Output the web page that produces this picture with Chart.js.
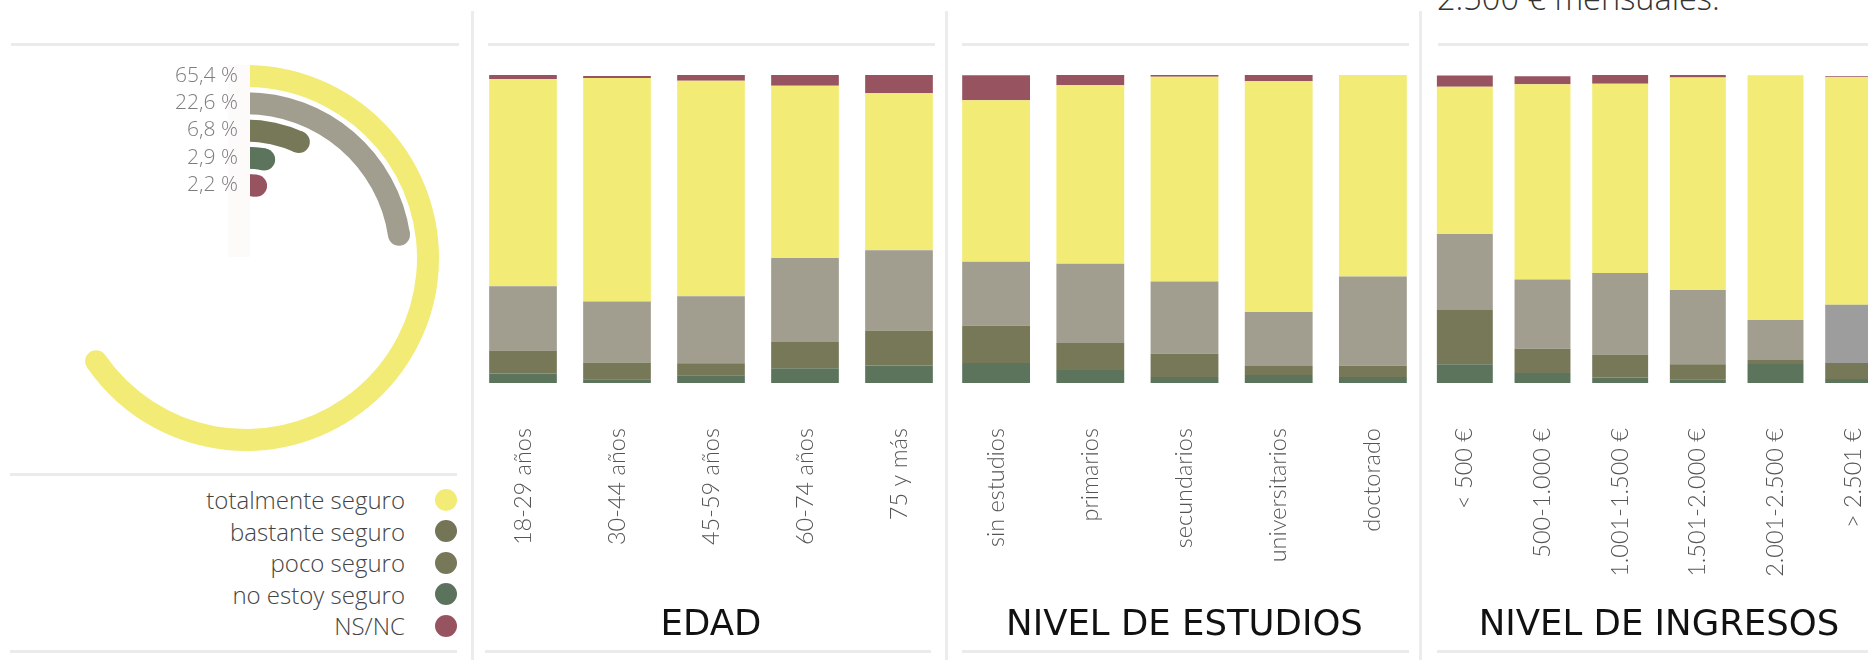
<!DOCTYPE html>
<html>
<head>
<meta charset="utf-8">
<script src="https://cdn.jsdelivr.net/npm/chart.js@4.4.1/dist/chart.umd.min.js"></script>
<style>
  body { margin: 0; width: 1868px; height: 660px; overflow: hidden; background: #fff; position: relative; font-family: 'Open Sans', Lato, sans-serif; }
  canvas { position: absolute; }
  .vline { position: absolute; top: 11px; bottom: 0; width: 3px; background: #ececec; }
  .hline { position: absolute; height: 3px; background: #ebebeb; }
  #topnote { position: absolute; left: 1437px; top: -25px; font-size: 32.5px; font-weight: 300; color: #333; white-space: nowrap; }
  #legend { position: absolute; left: 0; top: 484px; width: 457px; }
  .row { height: 31.5px; display: flex; align-items: center; justify-content: flex-end; font-size: 24px; font-weight: 300; color: #444; }
  .dot { width: 22px; height: 22px; border-radius: 50%; margin-left: 30px; }
</style>
</head>
<body>
<div id="topnote">2.500 € mensuales.</div>

<div class="vline" style="left:471px"></div>
<div class="vline" style="left:945px"></div>
<div class="vline" style="left:1419px"></div>

<div class="hline" style="left:11px;width:448px;top:43px"></div>
<div class="hline" style="left:488px;width:447px;top:43px"></div>
<div class="hline" style="left:962px;width:447px;top:43px"></div>
<div class="hline" style="left:1438px;width:440px;top:43px"></div>

<div class="hline" style="left:10px;width:447px;top:473px"></div>

<div class="hline" style="left:10px;width:447px;top:650px"></div>
<div class="hline" style="left:485px;width:446px;top:650px"></div>
<div class="hline" style="left:962px;width:447px;top:650px"></div>
<div class="hline" style="left:1437px;width:440px;top:650px"></div>

<canvas id="radial" width="386" height="386" style="left:53px;top:65px"></canvas>
<div id="legend"></div>

<canvas id="edad" width="470" height="585" style="left:476px;top:75px"></canvas>
<canvas id="estudios" width="471" height="585" style="left:949px;top:75px"></canvas>
<canvas id="ingresos" width="466" height="585" style="left:1426px;top:75px"></canvas>

<script>
// categorías de respuesta
const seriesNames = ['totalmente seguro', 'bastante seguro', 'poco seguro', 'no estoy seguro', 'NS/NC'];
const seriesColors = ['#f2eb76', '#a19d8f', '#767858', '#5c735c', '#975460'];
const legendColors = ['#f2eb76', '#747556', '#77785a', '#5b735c', '#975460'];
const totalValues = [65.4, 22.6, 6.8, 2.9, 2.2];

// EDAD
const edadLabels = ['18-29 años', '30-44 años', '45-59 años', '60-74 años', '75 y más'];
const edadTotal = [67.3, 72.5, 69.9, 55.9, 51.0];
const edadBastante = [20.8, 19.8, 21.8, 27.3, 26.0];
const edadPoco = [7.5, 5.5, 3.9, 8.5, 11.4];
const edadNoSeguro = [3.1, 1.2, 2.5, 4.8, 5.7];
const edadNsnc = [1.3, 0.7, 1.9, 3.6, 5.9];

// NIVEL DE ESTUDIOS
const estudiosLabels = ['sin estudios', 'primarios', 'secundarios', 'universitarios', 'doctorado'];
const estudiosTotal = [52.4, 58.0, 66.4, 74.9, 65.5];
const estudiosBastante = [20.8, 25.7, 23.5, 17.6, 29.0];
const estudiosPoco = [12.1, 8.8, 7.5, 2.9, 3.6];
const estudiosNoSeguro = [6.5, 4.2, 2.0, 2.6, 2.0];
const estudiosNsnc = [8.1, 3.3, 0.6, 2.0, 0];

// NIVEL DE INGRESOS
const ingresosLabels = ['< 500 €', '500-1.000 €', '1.001-1.500 €', '1.501-2.000 €', '2.001-2.500 €', '> 2.501 €'];
const ingresosTotal = [47.8, 63.4, 61.5, 69.0, 79.4, 73.9];
const ingresosBastante = [24.7, 22.5, 26.4, 24.1, 13.0, 18.9];
const ingresosPoco = [17.6, 7.8, 7.5, 4.9, 1.3, 5.2];
const ingresosNoSeguro = [6.1, 3.3, 1.8, 1.2, 6.2, 1.3];
const ingresosNsnc = [3.6, 2.6, 2.9, 1.0, 0, 0.3];

const FONT = "'Open Sans', Lato, sans-serif";
const TICK_FONT = "Lato, 'Open Sans', sans-serif";
const TITLE_FONT = "'DejaVu Sans', 'Open Sans', sans-serif";

// legend (html)
const legendEl = document.getElementById('legend');
seriesNames.forEach((name, i) => {
  const row = document.createElement('div');
  row.className = 'row';
  row.innerHTML = `<span>${name}</span><span class="dot" style="background:${legendColors[i]}"></span>`;
  legendEl.appendChild(row);
});

// radial bars: one ring per answer, thin transparent spacer rings between them
const RING = 22, GAP = 5.25;
const radialSets = [];
totalValues.forEach((v, i) => {
  if (i > 0) radialSets.push({ data: [100], backgroundColor: ['rgba(0,0,0,0)'], weight: GAP, borderWidth: 0, spacer: true });
  radialSets.push({ data: [v, 100 - v], backgroundColor: [seriesColors[i], 'rgba(0,0,0,0)'], weight: RING, borderWidth: 0, label: seriesNames[i] });
});

const radialDeco = {
  id: 'radialDeco',
  afterDatasetsDraw(chart) {
    const ctx = chart.ctx;
    let cx = 0, cy = 0, top = 0;
    ctx.save();
    chart.data.datasets.forEach((ds, di) => {
      if (ds.spacer) return;
      const arc = chart.getDatasetMeta(di).data[0];
      const p = arc.getProps(['x', 'y', 'endAngle', 'innerRadius', 'outerRadius'], true);
      const r = (p.innerRadius + p.outerRadius) / 2;
      const w = (p.outerRadius - p.innerRadius) / 2;
      cx = p.x; cy = p.y; top = Math.max(top, p.outerRadius);
      // round cap at end of arc
      ctx.fillStyle = ds.backgroundColor[0];
      ctx.beginPath();
      ctx.arc(p.x + r * Math.cos(p.endAngle), p.y + r * Math.sin(p.endAngle), w, 0, Math.PI * 2);
      ctx.fill();
    });
    // label strip
    ctx.fillStyle = '#fdfbfa';
    ctx.fillRect(cx - 18, cy - top - 3, 22, top + 2);
    ctx.fillStyle = '#7d7d7d';
    ctx.font = `300 21px ${FONT}`;
    ctx.textAlign = 'right';
    ctx.textBaseline = 'middle';
    chart.data.datasets.forEach((ds, di) => {
      if (ds.spacer) return;
      const arc = chart.getDatasetMeta(di).data[0];
      const p = arc.getProps(['innerRadius', 'outerRadius'], true);
      const r = (p.innerRadius + p.outerRadius) / 2;
      ctx.fillText(ds.data[0].toFixed(1).replace('.', ',') + ' %', cx - 8, cy - r);
    });
    ctx.restore();
  }
};

new Chart(document.getElementById('radial'), {
  type: 'doughnut',
  data: { labels: ['valor', 'resto'], datasets: radialSets },
  options: {
    responsive: false,
    animation: false,
    cutout: 62,
    plugins: { legend: { display: false }, tooltip: { enabled: false } },
  },
  plugins: [radialDeco],
});

function stackedPanel(id, title, labels, total, bastante, poco, noSeguro, nsnc, bastanteColors) {
  const order = [noSeguro, poco, bastante, total, nsnc];
  const idx = [3, 2, 1, 0, 4];
  return new Chart(document.getElementById(id), {
    type: 'bar',
    data: {
      labels,
      datasets: order.map((d, k) => ({
        label: seriesNames[idx[k]],
        data: d,
        backgroundColor: idx[k] === 1 && bastanteColors ? bastanteColors : seriesColors[idx[k]],
        borderWidth: 0,
        barPercentage: 0.72,
        categoryPercentage: 1,
      })),
    },
    options: {
      responsive: false,
      animation: false,
      layout: { padding: { top: 0, bottom: 15, left: 0, right: 0 } },
      plugins: {
        legend: { display: false },
        tooltip: { enabled: false },
        title: {
          display: true, position: 'bottom', text: title, color: '#111',
          font: { family: TITLE_FONT, size: 35.5, weight: 'normal', lineHeight: 1.08 }, padding: 0,
        },
      },
      scales: {
        x: {
          stacked: true,
          grid: { display: false, drawTicks: false },
          border: { display: false },
          ticks: {
            minRotation: 90, maxRotation: 90, padding: 45, autoSkip: false,
            color: '#555', font: { family: TICK_FONT, size: 23.5, weight: '300' },
          },
          afterFit: s => { s.height = 223.6; s.paddingLeft = 0; s.paddingRight = 0; },
        },
        y: { stacked: true, min: 0, max: 100, display: false },
      },
    },
  });
}

stackedPanel('edad', 'EDAD', edadLabels, edadTotal, edadBastante, edadPoco, edadNoSeguro, edadNsnc);
stackedPanel('estudios', 'NIVEL DE ESTUDIOS', estudiosLabels, estudiosTotal, estudiosBastante, estudiosPoco, estudiosNoSeguro, estudiosNsnc);
stackedPanel('ingresos', 'NIVEL DE INGRESOS', ingresosLabels, ingresosTotal, ingresosBastante, ingresosPoco, ingresosNoSeguro, ingresosNsnc,
  ingresosLabels.map((_, i) => i === ingresosLabels.length - 1 ? '#9d9d9d' : seriesColors[1]));
</script>
</body>
</html>
